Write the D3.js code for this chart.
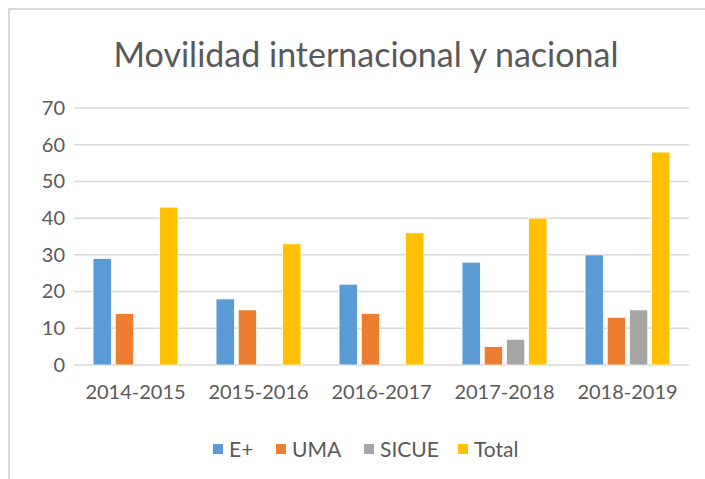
<!DOCTYPE html>
<html>
<head>
<meta charset="utf-8">
<script src="https://cdn.jsdelivr.net/npm/d3@7"></script>
<style>
  body { margin: 0; background: #fff; }
  text { font-family: Lato, "Liberation Sans", sans-serif; fill: #595959; }
</style>
</head>
<body>
<div id="chart"></div>
<script>
var categories = ["2014-2015", "2015-2016", "2016-2017", "2017-2018", "2018-2019"];
var series = ["E+", "UMA", "SICUE", "Total"];
var ePlus = [29, 18, 22, 28, 30];
var uma = [14, 15, 14, 5, 13];
var sicue = [0, 0, 0, 7, 15];
var total = [43, 33, 36, 40, 58];
var yTicks = [0, 10, 20, 30, 40, 50, 60, 70];
var colors = ["#5b9bd5", "#ed7d31", "#a5a5a5", "#ffc000"];

var values = [ePlus, uma, sicue, total];
var width = 705, height = 479;

var svg = d3.select("#chart").append("svg")
    .attr("width", width)
    .attr("height", height);

// chart frame
svg.append("rect")
    .attr("x", 9).attr("y", 9)
    .attr("width", 720).attr("height", 500)
    .attr("fill", "#fff")
    .attr("stroke", "#d9d9d9")
    .attr("stroke-width", 2);

svg.append("text")
    .attr("x", 366)
    .attr("y", 67)
    .attr("text-anchor", "middle")
    .style("font-size", "34px")
    .text("Movilidad internacional y nacional");

var x0 = d3.scaleBand()
    .domain(categories)
    .range([74, 689])
    .paddingInner(0.31)
    .paddingOuter(0.155);

var x1 = d3.scaleBand()
    .domain(series)
    .range([0, x0.bandwidth()])
    .paddingInner(0.175)
    .paddingOuter(0);

var y = d3.scaleLinear()
    .domain([0, 70])
    .range([365, 108]);

// gridlines
svg.append("g").selectAll("line")
    .data(yTicks)
    .enter().append("line")
    .attr("x1", 74).attr("x2", 689)
    .attr("y1", function(d) { return y(d); })
    .attr("y2", function(d) { return y(d); })
    .attr("stroke", "#d9d9d9")
    .attr("stroke-width", 1.5);

// y axis labels
var yAxis = d3.axisLeft(y).tickValues(yTicks).tickSize(0).tickPadding(0);
svg.append("g")
    .attr("transform", "translate(65,0)")
    .call(yAxis)
    .call(function(g) { g.select(".domain").remove(); })
    .selectAll("text")
    .style("font-family", "Lato, 'Liberation Sans', sans-serif")
    .style("font-size", "20px")
    .attr("fill", "#595959");

// x axis labels
var xAxis = d3.axisBottom(x0).tickSize(0).tickPadding(0);
svg.append("g")
    .attr("transform", "translate(0,385)")
    .call(xAxis)
    .call(function(g) { g.select(".domain").remove(); })
    .selectAll("text")
    .style("font-family", "Lato, 'Liberation Sans', sans-serif")
    .style("font-size", "20px")
    .attr("fill", "#595959");

// bars
var groups = svg.append("g").selectAll("g")
    .data(categories)
    .enter().append("g")
    .attr("transform", function(d) { return "translate(" + x0(d) + ",0)"; });

groups.selectAll("rect")
    .data(function(d, i) {
      return series.map(function(s, j) { return {s: s, v: values[j][i], c: colors[j]}; });
    })
    .enter().append("rect")
    .filter(function(d) { return d.v > 0; })
    .attr("x", function(d) { return x1(d.s); })
    .attr("width", x1.bandwidth())
    .attr("y", function(d) { return y(d.v); })
    .attr("height", function(d) { return y(0) - y(d.v); })
    .attr("fill", function(d) { return d.c; })
    .attr("stroke", "#fff")
    .attr("stroke-width", 0.75);

// legend
var legendX = [213, 276, 364, 458];
var legend = svg.append("g").selectAll("g")
    .data(series)
    .enter().append("g")
    .attr("transform", function(d, i) { return "translate(" + legendX[i] + ",444)"; });

legend.append("rect")
    .attr("width", 10).attr("height", 10)
    .attr("fill", function(d, i) { return colors[i]; });

legend.append("text")
    .attr("x", 16)
    .attr("y", 13)
    .style("font-size", "21px")
    .text(function(d) { return d; });
</script>
</body>
</html>
